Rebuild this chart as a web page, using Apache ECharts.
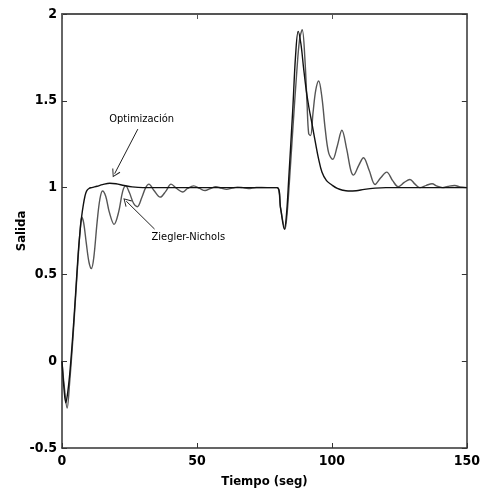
<!DOCTYPE html>
<html>
<head>
<meta charset="utf-8">
<script src="https://cdn.jsdelivr.net/npm/echarts@6/dist/echarts.min.js"></script>
<style>
html,body{margin:0;padding:0;background:#fff;}
#chart{width:483px;height:496px;}
</style>
</head>
<body>
<div id="chart"></div>
<script>
// ---- data (t in seconds, y = salida) ----
var optData = [
  [0,0],[0.7,-0.15],[1.4,-0.24],[2.2,-0.17],[3,-0.05],[4,0.15],[5,0.38],[6,0.62],[6.7,0.75],[7.25,0.83],
  [7.9,0.9],[8.5,0.95],[9.1,0.98],[10,0.995],[11,1.0],[13,1.008],[15,1.017],[17.7,1.025],[20,1.022],
  [23,1.012],[26,1.004],[30,1.0],[40,1.0],[50,1.0],[60,1.0],[70,1.0],[79.7,1.0],[81,0.88],[82.4,0.76],
  [83.2,0.85],[84,1.05],[85.5,1.45],[86.5,1.75],[87.5,1.9],[88.5,1.83],[89.5,1.69],[90.5,1.56],[91.5,1.46],
  [92.6,1.37],[94,1.25],[95,1.17],[96.3,1.09],[98,1.04],[100,1.015],[102,0.995],[104,0.985],[106,0.98],
  [109,0.982],[112,0.99],[116,0.997],[120,1.0],[150,1.0]
];
var znData = [
  [0,0],[0.8,-0.14],[1.9,-0.27],[2.8,-0.13],[4,0.12],[5,0.36],[6,0.6],[6.7,0.75],[7.3,0.83],[8,0.8],
  [9,0.68],[10,0.57],[10.9,0.534],[11.8,0.6],[13,0.8],[14,0.93],[15,0.98],[16.2,0.95],[17.5,0.86],
  [19.3,0.788],[21,0.86],[22.5,0.98],[23.6,1.01],[25,0.97],[26.5,0.91],[27.9,0.89],[29.5,0.94],[31,1.0],
  [32.2,1.02],[34,0.985],[36.4,0.945],[38.5,0.98],[40.4,1.02],[42.5,0.995],[44.7,0.975],[46.5,0.995],
  [48.8,1.01],[51,0.995],[53,0.983],[55,0.995],[57,1.005],[59,0.997],[61,0.99],[63,0.997],[65,1.003],
  [67,1.0],[69,0.995],[72,1.001],[76,1.0],[79.7,1.0],[81,0.88],[82.6,0.76],[83.4,0.85],[84.2,1.02],
  [85.5,1.33],[87,1.67],[88,1.85],[89,1.91],[90,1.74],[90.8,1.48],[91.4,1.31],[92.1,1.3],[93,1.43],
  [94,1.56],[95.1,1.614],[96.3,1.52],[97.5,1.34],[98.8,1.2],[100.3,1.163],[102,1.24],[103.7,1.33],
  [105.5,1.22],[107,1.1],[108,1.072],[110,1.13],[111.7,1.172],[113.8,1.1],[116,1.018],[118,1.055],
  [120.3,1.089],[122.5,1.04],[124.6,1.005],[126.8,1.03],[128.9,1.047],[130.8,1.02],[132.6,1.0],
  [135,1.013],[137.1,1.022],[139,1.008],[141,1.0],[143,1.007],[145.5,1.012],[147.5,1.004],[150,1.0]
];
var seriesNames = ['Optimización', 'Ziegler-Nichols'];
var xTicks = [0, 50, 100, 150];
var yTicks = [-0.5, 0, 0.5, 1, 1.5, 2];
var xTitle = 'Tiempo (seg)';
var yTitle = 'Salida';
// annotation anchors in data space: [label position], [arrow start], [arrow end]
var optLabelAt = [29.5, 1.395];
var optArrow = [[28.1, 1.337], [19.5, 1.08]];
var znLabelAt = [46.8, 0.715];
var znArrow = [[34.3, 0.761], [23.8, 0.922]];

var FONT = "'Liberation Sans Narrow', 'Arial Narrow', 'DejaVu Sans Condensed', 'Liberation Sans', sans-serif";
var CHEVRON = 'path://M0,10 L5,0 L10,10 L9,10.6 L5,2.4 L1,10.6 Z';
var chart = echarts.init(document.getElementById('chart'), null, {renderer: 'canvas'});

function annot(labelAt, arrow, text) {
  return {
    markPoint: {
      silent: true,
      symbol: 'circle', symbolSize: 0,
      label: {show: true, position: 'inside', formatter: text, color: '#000',
              fontFamily: FONT, fontSize: 11},
      data: [{coord: labelAt}]
    },
    markLine: {
      silent: true,
      symbol: ['none', CHEVRON], symbolSize: [9, 8],
      label: {show: false},
      emphasis: {disabled: true},
      lineStyle: {color: '#222', width: 1, type: 'solid'},
      itemStyle: {color: '#222'},
      data: [[{coord: arrow[0]}, {coord: arrow[1]}]]
    }
  };
}

var optS = Object.assign({
  name: seriesNames[0], type: 'line', data: optData, showSymbol: false, smooth: 0.35,
  lineStyle: {color: '#111', width: 1.4}, itemStyle: {color: '#111'}, z: 3
}, annot(optLabelAt, optArrow, seriesNames[0]));
var znS = Object.assign({
  name: seriesNames[1], type: 'line', data: znData, showSymbol: false, smooth: 0.35,
  lineStyle: {color: '#555', width: 1.4}, itemStyle: {color: '#555'}, z: 2
}, annot(znLabelAt, znArrow, seriesNames[1]));

var tickLabel = {color: '#000', fontFamily: FONT, fontWeight: 'bold', fontSize: 14};
var option = {
  animation: false,
  backgroundColor: '#fff',
  grid: {left: 62, right: 14, top: 14, bottom: 48, show: false},
  xAxis: [{
    type: 'value', min: xTicks[0], max: xTicks[xTicks.length - 1], interval: 50,
    name: xTitle, nameLocation: 'middle', nameGap: 27, nameMoveOverlap: false,
    nameTextStyle: {color: '#000', fontFamily: FONT, fontWeight: 'bold', fontSize: 13},
    axisLine: {show: true, onZero: false, lineStyle: {color: '#333', width: 1.5}},
    axisTick: {show: true, inside: true, length: 5, lineStyle: {color: '#333'}},
    axisLabel: Object.assign({margin: 6}, tickLabel),
    splitLine: {show: false}
  }, {
    type: 'value', position: 'top', min: xTicks[0], max: xTicks[xTicks.length - 1], interval: 50,
    axisLine: {show: true, onZero: false, lineStyle: {color: '#555', width: 2}},
    axisTick: {show: true, inside: true, length: 5, lineStyle: {color: '#555'}},
    axisLabel: {show: false}, splitLine: {show: false}
  }],
  yAxis: [{
    type: 'value', min: yTicks[0], max: yTicks[yTicks.length - 1], interval: 0.5,
    name: yTitle, nameLocation: 'middle', nameGap: 34, nameRotate: 90, nameMoveOverlap: false,
    nameTextStyle: {color: '#000', fontFamily: FONT, fontWeight: 'bold', fontSize: 13},
    axisLine: {show: true, onZero: false, lineStyle: {color: '#333', width: 1.5}},
    axisTick: {show: true, inside: true, length: 5, lineStyle: {color: '#333'}},
    axisLabel: Object.assign({margin: 5}, tickLabel),
    splitLine: {show: false}
  }, {
    type: 'value', position: 'right', min: yTicks[0], max: yTicks[yTicks.length - 1], interval: 0.5,
    axisLine: {show: true, onZero: false, lineStyle: {color: '#333', width: 1.5}},
    axisTick: {show: true, inside: true, length: 5, lineStyle: {color: '#333'}},
    axisLabel: {show: false}, splitLine: {show: false}
  }],
  series: [znS, optS]
};
chart.setOption(option);
</script>
</body>
</html>
